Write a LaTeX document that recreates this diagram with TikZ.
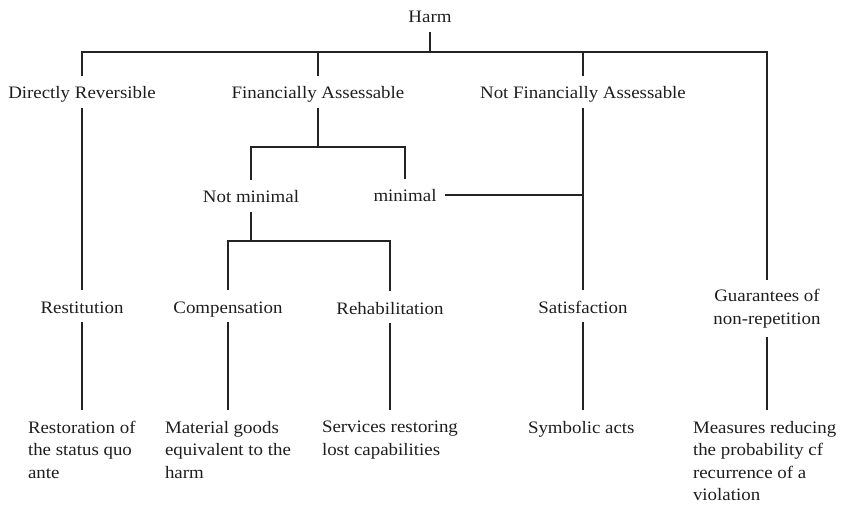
\documentclass[tikz,border=0pt]{standalone}
\usepackage{fontspec}
\setmainfont[FakeStretch=1.08]{Liberation Serif}
\usepackage{xcolor}
\usepackage{tikz}
\usetikzlibrary{positioning,calc}
\definecolor{treeline}{RGB}{35,35,35}
\definecolor{treetext}{RGB}{30,30,30}

\begin{document}
\begin{tikzpicture}[x=1pt,y=-1pt,
            lbl/.style={font=\fontsize{17.5}{23}\selectfont, text=treetext, inner sep=0pt,
                text height=15pt, text depth=1pt, outer xsep=8pt, outer ysep=8pt},
            twolbl/.style={font=\fontsize{17.5}{23}\selectfont, text=treetext, inner sep=0pt,
                align=center, outer xsep=8pt, outer ysep=9pt},
            desc/.style={font=\fontsize{17.5}{22.5}\selectfont, text=treetext, inner sep=0pt,
                align=left, anchor=north west, outer xsep=0pt, outer ysep=11pt},
            link/.style={draw=treeline, line width=2pt}]
            \useasboundingbox (0,0) rectangle (841,505);

            % Root
            \node[lbl] (harm) at (430,16) {Harm};
            \coordinate (bar) at (430,52);

            % First level
            \node[lbl] (dr) at (82,92) {Directly Reversible};
            \node[lbl] (fa) at (318,92) {Financially Assessable};
            \node[lbl] (nfa) at (583,92) {Not Financially Assessable};
            \node[twolbl] (guar) at (767,308.5) {Guarantees of\\non-repetition};

            % Financially assessable split
            \coordinate (fork) at (318,147);
            \node[lbl] (notmin) at (251,196) {Not minimal};
            \node[lbl] (minl) at (405,195) {minimal};
            \coordinate (nmfork) at (251,241);

            % Remedies
            \node[lbl] (rest) at (82,306) {Restitution};
            \node[lbl] (comp) at (228,306) {Compensation};
            \node[lbl] (rehab) at (390,307) {Rehabilitation};
            \node[lbl] (satis) at (583,306) {Satisfaction};

            % Descriptions
            \node[desc] (restd) at (28,410) {Restoration of\\the status quo\\ante};
            \node[desc] (compd) at (165,410) {Material goods\\equivalent to the\\harm};
            \node[desc] (rehabd) at (322,410) {Services restoring\\lost capabilities};
            \node[desc] (satisd) at (528,410) {Symbolic acts};
            \node[desc] (guard) at (693,410) {Measures reducing\\the probability cf\\recurrence of a\\violation};

            % Tree lines
            \draw[link] (harm) -- (bar);
            \draw[link] (dr) -- (bar -| dr) -- (bar -| guar) -- (guar);
            \draw[link] (bar -| fa) -- (fa);
            \draw[link] (bar -| nfa) -- (nfa);

            \draw[link] (fa) -- (fork);
            \draw[link] (notmin) -- (fork -| notmin) -- (fork -| minl) -- (minl);
            \draw[link] (notmin) -- (nmfork);
            \draw[link] (comp) -- (nmfork -| comp) -- (nmfork -| rehab) -- (rehab);
            \draw[link] (minl) -- (minl -| nfa);

            \draw[link] (dr) -- (rest);
            \draw[link] (nfa) -- (satis);

            \draw[link] (rest) -- (rest |- restd.north);
            \draw[link] (comp) -- (comp |- compd.north);
            \draw[link] (rehab) -- (rehab |- rehabd.north);
            \draw[link] (satis) -- (satis |- satisd.north);
            \draw[link] (guar) -- (guar |- guard.north);
        \end{tikzpicture}
\end{document}
